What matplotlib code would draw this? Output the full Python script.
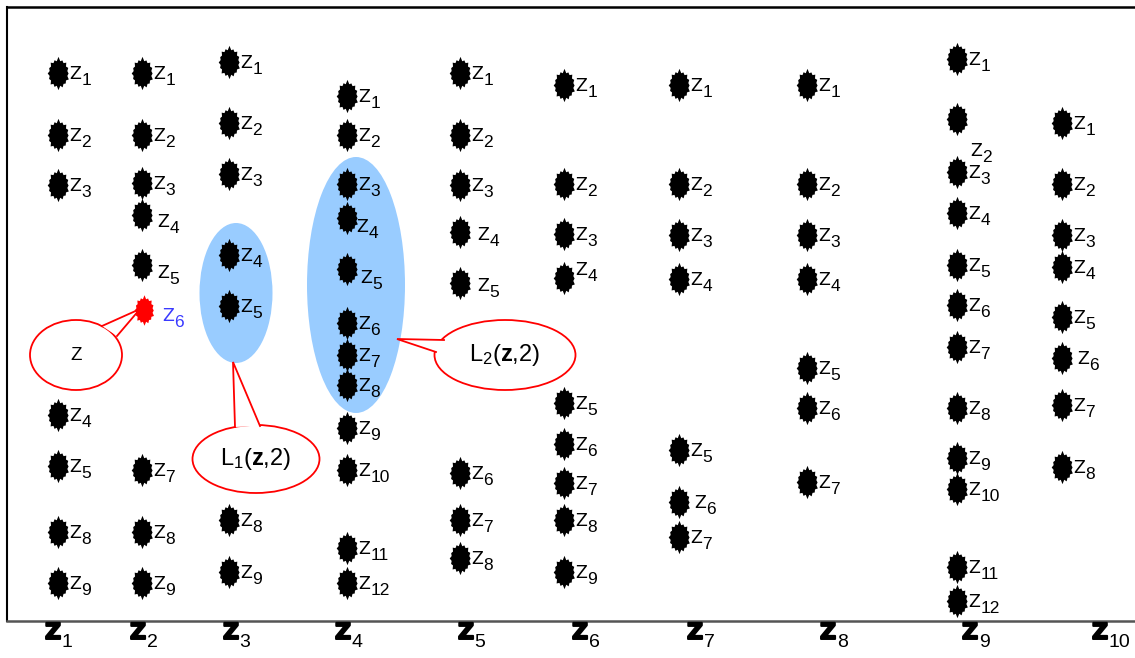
import numpy as np
import matplotlib
matplotlib.use('Agg')
import matplotlib.pyplot as plt
import matplotlib.patheffects as pe
from matplotlib.path import Path
from matplotlib.patches import Ellipse, Polygon

plt.rcParams['font.family'] = ['Liberation Sans', 'DejaVu Sans']
plt.rcParams['mathtext.fontset'] = 'custom'
plt.rcParams['mathtext.rm'] = 'Liberation Sans'
plt.rcParams['mathtext.it'] = 'Liberation Sans:italic'
plt.rcParams['mathtext.bf'] = 'Liberation Sans:bold'

# ---------------- data ----------------
column_labels = ['1', '2', '3', '4', '5', '6', '7', '8', '9', '10']
column_x = [58, 142, 229, 347, 460, 564, 679, 807, 957, 1062]
column_label_x = [45, 130, 223, 335, 458, 572, 687, 820, 962, 1092]

col1_ids = [1, 2, 3, 4, 5, 8, 9]
col1_y = [73, 135, 185, 415, 466, 532, 583]
col2_ids = [1, 2, 3, 4, 5, 7, 8, 9]
col2_y = [73, 135, 183, 215, 265, 470, 532, 583]
col3_ids = [1, 2, 3, 4, 5, 8, 9]
col3_y = [62, 123, 174, 255, 306, 520, 572]
col4_ids = [1, 2, 3, 4, 5, 6, 7, 8, 9, 10, 11, 12]
col4_y = [96, 135, 184, 218, 269, 323, 355, 385, 428, 470, 548, 583]
col5_ids = [1, 2, 3, 4, 5, 6, 7, 8]
col5_y = [73, 135, 185, 232, 283, 473, 520, 558]
col6_ids = [1, 2, 3, 4, 5, 6, 7, 8, 9]
col6_y = [85, 184, 234, 278, 403, 444, 483, 520, 572]
col7_ids = [1, 2, 3, 4, 5, 6, 7]
col7_y = [85, 184, 235, 279, 450, 502, 537]
col8_ids = [1, 2, 3, 4, 5, 6, 7]
col8_y = [85, 184, 235, 279, 368, 408, 482]
col9_ids = [1, 2, 3, 4, 5, 6, 7, 8, 9, 10, 11, 12]
col9_y = [59, 119, 172, 213, 265, 305, 347, 408, 458, 489, 567, 601]
col10_ids = [1, 2, 3, 4, 5, 6, 7, 8]
col10_y = [123, 184, 235, 267, 317, 358, 405, 467]

# query point z (column 2, item 6)
query_col = 2
query_id = 6
query_y = 310

columns_ids = [col1_ids, col2_ids, col3_ids, col4_ids, col5_ids,
               col6_ids, col7_ids, col8_ids, col9_ids, col10_ids]
columns_y = [col1_y, col2_y, col3_y, col4_y, col5_y,
             col6_y, col7_y, col8_y, col9_y, col10_y]

# ---------------- styling ----------------
W, H = 1135, 658
fig = plt.figure(figsize=(W / 100, H / 100), dpi=100)
ax_left, ax_right, ax_top, ax_bottom = 7, 1135, 7, 621
ax = fig.add_axes([ax_left / W, (H - ax_bottom) / H,
                   (ax_right - ax_left) / W, (ax_bottom - ax_top) / H])
ax.set_xlim(ax_left, ax_right)
ax.set_ylim(ax_bottom, ax_top)
ax.set_xticks([])
ax.set_yticks([])
ax.spines['right'].set_visible(False)
ax.spines['left'].set_color('black')
ax.spines['left'].set_linewidth(1.5)
ax.spines['top'].set_color('black')
ax.spines['top'].set_linewidth(1.8)
ax.spines['bottom'].set_color('#555555')
ax.spines['bottom'].set_linewidth(1.8)
renderer = fig.canvas.get_renderer()
inv = ax.transData.inverted()

# irregular star marker (taller than wide)
outer_r = [1.0, 0.86, 0.92, 0.84, 0.9, 0.85, 0.93, 0.87,
           1.0, 0.9, 0.85, 0.93, 0.84, 0.88, 0.92, 0.85]
n_sp = len(outer_r)
angles = np.pi / 2 + np.arange(2 * n_sp) * np.pi / n_sp
verts = []
for k, a in enumerate(angles):
    r = outer_r[k // 2] if k % 2 == 0 else 0.75
    verts.append((0.72 * r * np.cos(a), r * np.sin(a)))
verts.append(verts[0])
codes = [Path.MOVETO] + [Path.LINETO] * (len(verts) - 2) + [Path.CLOSEPOLY]
star = Path(verts, codes)

label_nudge = {
    (2, 4): (4, 6), (2, 5): (4, 7),
    (4, 4): (-2, 8), (4, 5): (2, 8),
    (5, 4): (6, 2), (5, 5): (6, 2),
    (6, 4): (0, -9),
    (7, 6): (4, 0),
    (9, 2): (2, 31),
    (10, 6): (4, 0),
}

fs_lab = 12.5


def x_end_of(t):
    bb = t.get_window_extent(renderer)
    return inv.transform((bb.x1, bb.y0))[0]


def point_label(x, y, num, color='black', dx=11, dy=0):
    t = ax.text(x + dx, y + dy + 6, 'Z', fontsize=fs_lab, color=color,
                family='DejaVu Sans', ha='left', va='baseline', zorder=5)
    ax.text(x_end_of(t) + 0.3, y + dy + 12, str(num), fontsize=fs_lab,
            color=color, ha='left', va='baseline', zorder=5)


# blue neighbourhood ellipses
ax.add_patch(Ellipse((236, 293), 73, 140, facecolor='#99ccff',
                     edgecolor='none', zorder=1))
ax.add_patch(Ellipse((356, 285), 98, 256, facecolor='#99ccff',
                     edgecolor='none', zorder=1))

# stars
for ci, (ids, ys) in enumerate(zip(columns_ids, columns_y), start=1):
    xs = [column_x[ci - 1]] * len(ys)
    ax.plot(xs, ys, linestyle='none', marker=star, markersize=24,
            color='black', markeredgewidth=0, zorder=4)
    for num, yv in zip(ids, ys):
        ndx, ndy = label_nudge.get((ci, num), (0, 0))
        point_label(column_x[ci - 1], yv, num, dx=11 + ndx, dy=ndy)


# callouts
def callout(center, w, h, j1, tip, j2, text, fs):
    ax.add_patch(Ellipse(center, w, h, facecolor='white', edgecolor='red',
                         linewidth=1.3, zorder=6))
    ax.add_patch(Polygon([j1, tip, j2], closed=True, facecolor='white',
                         edgecolor='none', zorder=6.5))
    ax.plot([j1[0], tip[0], j2[0]], [j1[1], tip[1], j2[1]], color='red',
            linewidth=1.3, zorder=7, solid_joinstyle='miter')
    ax.text(center[0], center[1], text, fontsize=fs, ha='center',
            va='center', zorder=8)


callout((76, 355), 92, 70, (102, 326), (140, 309), (117, 336), 'Z', 13.5)
callout((256, 459), 127, 68, (235, 427), (233, 362), (260, 426),
        r'L$_1$($\mathbf{z}$,2)', 17)
callout((505, 355), 141, 70, (444, 340), (397, 339), (436, 352),
        r'L$_2$($\mathbf{z}$,2)', 17)

# query star (red) and its blue label
qx = column_x[query_col - 1] + 2
ax.plot([qx], [query_y], linestyle='none', marker=star, markersize=22,
        color='red', markeredgewidth=0, zorder=9)
point_label(qx, query_y, query_id, color='#3a3aff', dx=18, dy=5)

# bottom column labels
for lx, lab in zip(column_label_x, column_labels):
    t = ax.text(lx, 639, 'Z', fontsize=16, fontweight='bold',
                family='DejaVu Sans', ha='left', va='baseline',
                clip_on=False,
                path_effects=[pe.withStroke(linewidth=1.4,
                                            foreground='black')])
    ax.text(x_end_of(t) + 0.5, 647, lab, fontsize=14, ha='left',
            va='baseline', clip_on=False)

fig.savefig('out.png', dpi=100)
